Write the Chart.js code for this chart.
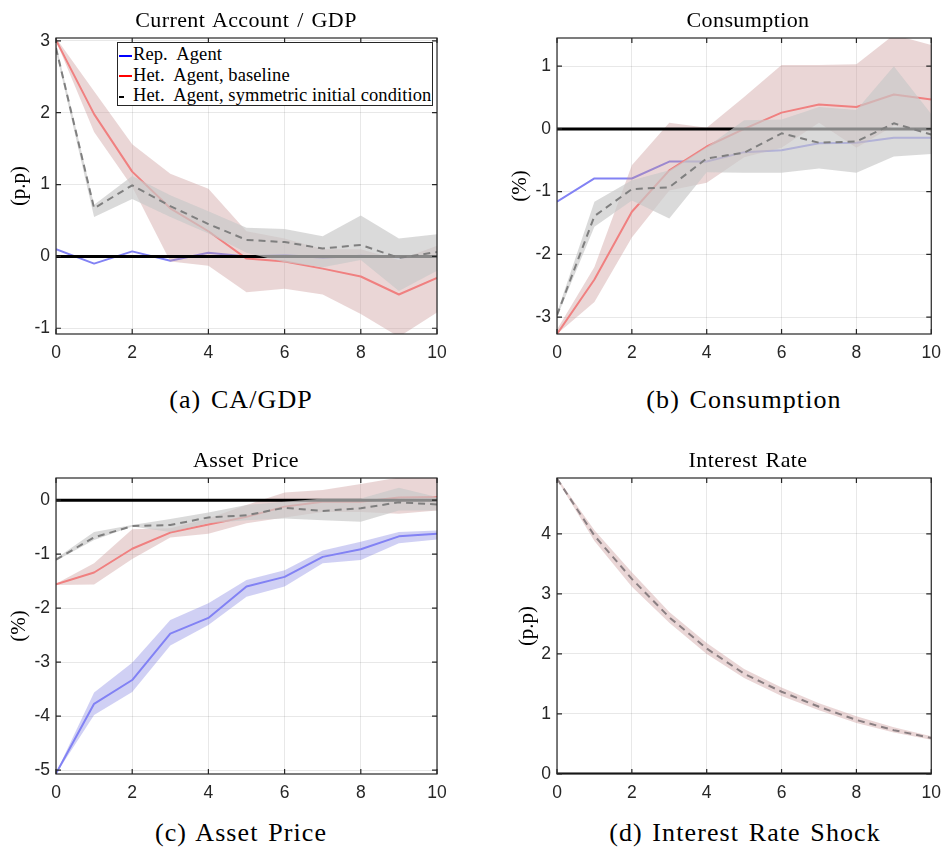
<!DOCTYPE html>
<html>
<head>
<meta charset="utf-8">
<script src="https://cdn.jsdelivr.net/npm/chart.js@4.4.1/dist/chart.umd.min.js"></script>
<style>
  body { margin:0; background:#fff; width:950px; height:853px; position:relative; overflow:hidden; font-family:"Liberation Serif", serif; color:#000; }
  .panel { position:absolute; }
  .panel canvas { display:block; }
  .ttl, .cap { position:absolute; white-space:pre; line-height:1; transform:translateX(-50%); }
  .ttl { font-size:22px; letter-spacing:0.4px; word-spacing:2px; }
  .cap { font-size:26px; letter-spacing:1.1px; word-spacing:2px; }
  #legend { position:absolute; left:117px; top:42px; width:314px; height:61px; border:1px solid #262626; background:#fff; font-size:18.5px; letter-spacing:0.1px; padding-top:1px; box-sizing:content-box; }
  #legend div { height:20.5px; line-height:20.5px; white-space:pre; }
  #legend span { display:inline-block; height:2px; vertical-align:middle; margin-left:1px; margin-right:1px; width:13px; }
</style>
</head>
<body>
<div class="panel" style="left:0;top:0"><canvas id="chart-ca" width="460" height="365"></canvas></div>
<div class="panel" style="left:480px;top:0"><canvas id="chart-cons" width="470" height="365"></canvas></div>
<div class="panel" style="left:0;top:440px"><canvas id="chart-ap" width="460" height="365"></canvas></div>
<div class="panel" style="left:480px;top:440px"><canvas id="chart-ir" width="470" height="365"></canvas></div>

<div class="ttl" style="left:246px;top:9px">Current Account / GDP</div>
<div class="ttl" style="left:748px;top:9px">Consumption</div>
<div class="ttl" style="left:246px;top:449px">Asset Price</div>
<div class="ttl" style="left:748px;top:449px">Interest Rate</div>

<div class="cap" style="left:241px;top:387px">(a) CA/GDP</div>
<div class="cap" style="left:744px;top:387px">(b) Consumption</div>
<div class="cap" style="left:241px;top:820px">(c) Asset Price</div>
<div class="cap" style="left:745px;top:820px">(d) Interest Rate Shock</div>

<div id="legend">
  <div><span style="background:#0000ff"></span>Rep.  Agent</div>
  <div><span style="background:#ff0000"></span>Het.  Agent, baseline</div>
  <div><span style="background:#000;width:5px;margin-right:9px"></span>Het.  Agent, symmetric initial condition</div>
</div>

<script>
'use strict';

// ---- data ----
const horizon = [0,1,2,3,4,5,6,7,8,9,10];
const xTicks = [0,2,4,6,8,10];
const zeroLine = [0,0,0,0,0,0,0,0,0,0,0];

// (a) current account / GDP, p.p.
const caRep   = [0.10,-0.10,0.07,-0.06,0.05,0.00,0.02,-0.02,0.01,-0.01,0.00];
const caHet   = [3.01,1.98,1.18,0.67,0.35,-0.03,-0.07,-0.17,-0.28,-0.53,-0.30];
const caHetLo = [3.00,1.73,0.97,-0.07,-0.13,-0.50,-0.45,-0.53,-0.80,-1.12,-0.78];
const caHetHi = [3.04,2.30,1.56,1.15,0.94,0.35,0.25,0.10,0.10,-0.05,0.15];
const caSym   = [2.90,0.67,0.99,0.70,0.45,0.23,0.20,0.11,0.16,-0.02,0.06];
const caSymLo = [2.85,0.55,0.80,0.55,0.32,0.05,-0.08,-0.15,-0.05,-0.48,-0.20];
const caSymHi = [2.95,0.72,1.12,0.85,0.63,0.40,0.38,0.28,0.57,0.25,0.31];
const caTicks = [-1,0,1,2,3];

// (b) consumption, %
const cRep   = [-1.16,-0.79,-0.79,-0.52,-0.52,-0.37,-0.34,-0.23,-0.22,-0.14,-0.14];
const cHet   = [-3.27,-2.40,-1.32,-0.66,-0.28,0.00,0.26,0.39,0.35,0.55,0.47];
const cHetLo = [-3.27,-2.76,-1.73,-0.98,-0.86,-0.45,-0.30,0.10,-0.30,0.05,-0.05];
const cHetHi = [-3.20,-2.20,-0.58,0.10,0.02,0.51,1.02,1.02,1.03,1.50,1.34];
const cSym   = [-2.97,-1.39,-0.96,-0.93,-0.47,-0.38,-0.07,-0.22,-0.20,0.09,-0.09];
const cSymLo = [-3.00,-1.56,-1.14,-1.43,-0.69,-0.70,-0.70,-0.63,-0.70,-0.44,-0.40];
const cSymHi = [-2.93,-1.16,-0.82,-0.66,-0.29,0.14,0.15,0.35,0.30,1.00,0.24];
const cTicks = [-3,-2,-1,0,1];

// (c) asset price, %
const apRep   = [-5.06,-3.77,-3.33,-2.47,-2.18,-1.60,-1.42,-1.05,-0.91,-0.67,-0.62];
const apRepLo = [-5.07,-3.98,-3.55,-2.69,-2.31,-1.79,-1.60,-1.17,-1.11,-0.80,-0.73];
const apRepHi = [-5.05,-3.56,-3.01,-2.22,-1.91,-1.48,-1.30,-0.93,-0.77,-0.59,-0.56];
const apHet   = [-1.56,-1.34,-0.90,-0.60,-0.45,-0.31,-0.12,-0.03,-0.03,0.05,0.06];
const apHetLo = [-1.57,-1.56,-1.09,-0.69,-0.62,-0.43,-0.32,-0.22,-0.22,-0.25,-0.19];
const apHetHi = [-1.55,-1.17,-0.54,-0.52,-0.34,-0.09,0.14,0.19,0.30,0.42,0.42];
const apSym   = [-1.10,-0.69,-0.48,-0.46,-0.32,-0.28,-0.14,-0.20,-0.15,-0.04,-0.08];
const apSymLo = [-1.12,-0.74,-0.49,-0.59,-0.43,-0.37,-0.34,-0.37,-0.40,-0.19,-0.19];
const apSymHi = [-1.08,-0.59,-0.46,-0.35,-0.23,-0.09,-0.03,0.03,0.03,0.23,0.06];
const apTicks = [-5,-4,-3,-2,-1,0];

// (d) interest rate shock, p.p.
const irPath = [4.92,3.97,3.25,2.61,2.09,1.67,1.37,1.12,0.90,0.73,0.60];
const irLo   = [4.90,3.88,3.12,2.52,2.00,1.60,1.30,1.06,0.85,0.69,0.57];
const irHi   = [4.94,4.06,3.36,2.70,2.18,1.75,1.44,1.18,0.96,0.78,0.63];
const irTicks = [0,1,2,3,4];

// ---- style ----
const BLUE = '#8282f4', RED = '#f08080', GREY = '#7f7f7f';
const BLUE_BAND = 'rgba(100,100,220,0.3)';
const RED_BAND = 'rgba(200,147,147,0.38)';
const GREY_BAND = 'rgba(200,200,200,0.68)';
const AXIS = '#262626';

const pts = arr => arr.map((v,i) => ({x: horizon[i], y: v}));

function line(data, color, order, extra) {
  return Object.assign({data: pts(data), borderColor: color, borderWidth: 2, pointRadius: 0, fill: false, order}, extra || {});
}
function band(lo, hi, color, order) {
  return [
    {data: pts(lo), borderWidth: 0, pointRadius: 0, fill: false, order},
    {data: pts(hi), borderWidth: 0, pointRadius: 0, backgroundColor: color, fill: '-1', order},
  ];
}

// box round the axes with inward tick marks, like matlab
const boxFrame = {
  id: 'boxFrame',
  afterDatasetsDraw(chart) {
    const {ctx, chartArea: a, scales: {x, y}} = chart;
    ctx.save();
    ctx.strokeStyle = AXIS;
    ctx.lineWidth = 1.2;
    ctx.strokeRect(a.left, a.top, a.right - a.left, a.bottom - a.top);
    ctx.beginPath();
    x.ticks.forEach(t => {
      const px = x.getPixelForValue(t.value);
      ctx.moveTo(px, a.bottom); ctx.lineTo(px, a.bottom - 5);
      ctx.moveTo(px, a.top); ctx.lineTo(px, a.top + 5);
    });
    y.ticks.forEach(t => {
      const py = y.getPixelForValue(t.value);
      ctx.moveTo(a.left, py); ctx.lineTo(a.left + 5, py);
      ctx.moveTo(a.right, py); ctx.lineTo(a.right - 5, py);
    });
    ctx.stroke();
    ctx.restore();
  }
};

function makePanel(id, o) {
  const ctx = document.getElementById(id);
  return new Chart(ctx, {
    type: 'line',
    data: {datasets: o.datasets},
    plugins: [boxFrame],
    options: {
      responsive: false, animation: false,
      layout: {padding: {top: 38, right: o.rightPad, left: 0, bottom: 0}},
      plugins: {legend: {display: false}, tooltip: {enabled: false}},
      elements: {line: {tension: 0, borderJoinStyle: 'round'}},
      scales: {
        x: {
          type: 'linear', min: 0, max: 10,
          afterBuildTicks: s => { s.ticks = xTicks.map(v => ({value: v})); },
          afterFit: s => { s.height = 31; },
          grid: {color: 'rgba(0,0,0,0.09)', drawTicks: false},
          border: {display: false},
          ticks: {color: AXIS, padding: 9, font: {family: 'Liberation Sans', size: 17.5}},
        },
        y: {
          min: o.yMin, max: o.yMax,
          afterBuildTicks: s => { s.ticks = o.yTicks.map(v => ({value: v})); },
          afterFit: s => { s.width = o.yWidth; },
          grid: {color: 'rgba(0,0,0,0.09)', drawTicks: false},
          border: {display: false},
          ticks: {color: AXIS, padding: 6, font: {family: 'Liberation Sans', size: 17.5}},
          title: {display: true, text: o.yLabel, color: '#000', padding: {top: o.labelPad, bottom: 0},
                  font: {family: 'Liberation Serif', size: 21}},
        }
      }
    }
  });
}

makePanel('chart-ca', {
  yMin: -1.08, yMax: 3.04, yTicks: caTicks, yLabel: '(p.p)', yWidth: 56, labelPad: 7, rightPad: 23,
  datasets: [
    line(caRep, BLUE, 7),
    ...band(caHetLo, caHetHi, RED_BAND, 6),
    line(caHet, RED, 5),
    line(zeroLine, '#000', 4, {borderWidth: 3}),
    ...band(caSymLo, caSymHi, GREY_BAND, 3),
    line(caSym, GREY, 2, {borderDash: [7,5]}),
  ]
});

makePanel('chart-cons', {
  yMin: -3.27, yMax: 1.45, yTicks: cTicks, yLabel: '(%)', yWidth: 77, labelPad: 28, rightPad: 12,
  datasets: [
    line(cRep, BLUE, 7),
    ...band(cHetLo, cHetHi, RED_BAND, 6),
    line(cHet, RED, 5),
    line(zeroLine, '#000', 4, {borderWidth: 3}),
    ...band(cSymLo, cSymHi, GREY_BAND, 3),
    line(cSym, GREY, 2, {borderDash: [7,5]}),
  ]
});

makePanel('chart-ap', {
  yMin: -5.07, yMax: 0.41, yTicks: apTicks, yLabel: '(%)', yWidth: 56, labelPad: 7, rightPad: 23,
  datasets: [
    ...band(apRepLo, apRepHi, BLUE_BAND, 8),
    line(apRep, BLUE, 7),
    ...band(apHetLo, apHetHi, RED_BAND, 6),
    line(apHet, RED, 5),
    line(zeroLine, '#000', 4, {borderWidth: 3}),
    ...band(apSymLo, apSymHi, GREY_BAND, 3),
    line(apSym, GREY, 2, {borderDash: [7,5]}),
  ]
});

makePanel('chart-ir', {
  yMin: 0, yMax: 4.93, yTicks: irTicks, yLabel: '(p.p)', yWidth: 77, labelPad: 35, rightPad: 12,
  datasets: [
    ...band(irLo, irHi, RED_BAND, 6),
    line(zeroLine, '#000', 4, {borderWidth: 3}),
    line(irPath, '#8a7f82', 2, {borderDash: [7,5]}),
  ]
});
</script>
</body>
</html>
